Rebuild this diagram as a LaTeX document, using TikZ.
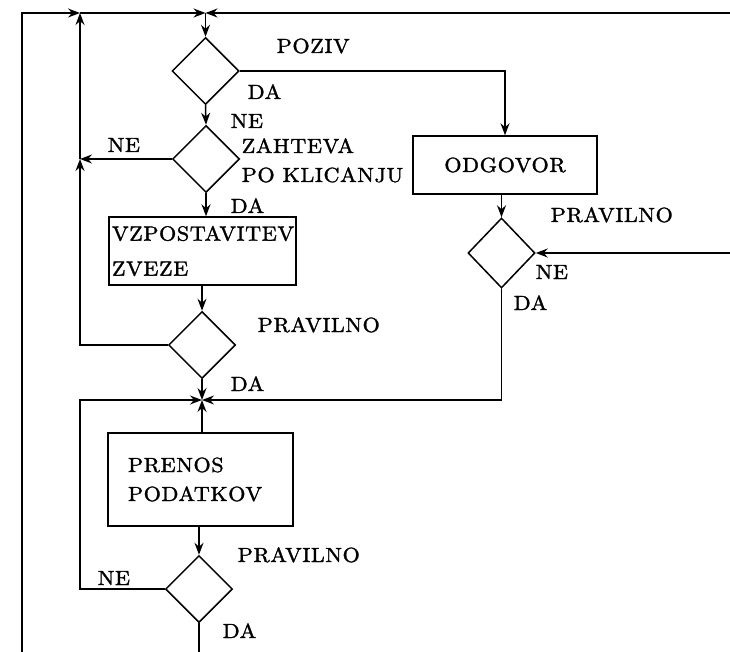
\documentclass[tikz,border=0pt]{standalone}
\usepackage{fontspec}
\usetikzlibrary{shapes.geometric,arrows.meta}
\newfontfamily\lmspaced{lmroman10-regular.otf}[FakeStretch=1.08,LetterSpace=3,FakeBold=1.5]
\newcommand\lblfont{\lmspaced\fontsize{20.5}{24}\selectfont}
\begin{document}
\begin{tikzpicture}[x=1pt,y=-1pt,line width=1.5pt,
  dec/.style={draw,diamond,inner sep=0pt,minimum width=67pt,minimum height=67pt},
  box/.style={draw,rectangle,inner sep=0pt,font=\lblfont},
  lbl/.style={font=\lblfont,anchor=base west,inner sep=0pt},
  arr/.style={-{Stealth[length=12pt,width=9pt,inset=4pt]}}]
\useasboundingbox (0,0) rectangle (730,652);
% decisions
\node[dec] (d1) at (205.5,71) {};
\node[dec] (d2) at (206,159) {};
\node[dec] (d3) at (202,345) {};
\node[dec,minimum height=70pt] (d4) at (501.5,253) {};
\node[dec] (d5) at (199,589) {};
% boxes
\node[box,minimum width=187pt,minimum height=68pt,inner xsep=3pt,text width=181pt,align=left] (b1) at (202.5,251) {VZPOSTAVITEV\\[11pt]ZVEZE};
\node[box,minimum width=184pt,minimum height=58pt] (b2) at (505,165) {ODGOVOR};
\node[box,minimum width=185pt,minimum height=93pt,inner xsep=20pt,text width=145pt,align=left] (b3) at (200.5,479.5) {PRENOS\\[5pt]PODATKOV};
% labels
\node[lbl] (t1) at (276,53) {POZIV};
\node[lbl] (t2) at (247,99) {DA};
\node[lbl] (t3) at (230,128) {NE};
\node[lbl] (t4) at (241,153) {ZAHTEVA};
\node[lbl] (t5) at (241,182) {PO KLICANJU};
\node[lbl] (t6) at (107,152) {NE};
\node[lbl] (t7) at (230,213) {DA};
\node[lbl] (t8) at (257,332) {PRAVILNO};
\node[lbl] (t9) at (230,391) {DA};
\node[lbl] (t10) at (550,222) {PRAVILNO};
\node[lbl] (t11) at (535,279) {NE};
\node[lbl] (t12) at (513,310) {DA};
\node[lbl] (t13) at (237,562) {PRAVILNO};
\node[lbl] (t14) at (97,585) {NE};
\node[lbl] (t15) at (222,638) {DA};
% coordinates
\coordinate (j1) at (205.5,13);
\coordinate (jL) at (80,13);
\coordinate (cTL) at (22,13);
\coordinate (cBL) at (22,652);
\coordinate (cTR) at (730,13);
\coordinate (cR) at (730,253);
\coordinate (jM) at (80,159);
\coordinate (j2) at (202,400);
\coordinate (cL2) at (80,400);
\coordinate (cB) at (199,652);
% connectors
\draw[arr] (cBL) -- (cTL) -- (jL);
\draw[arr] (d3.west) -| (jM);
\draw[arr] (jM) -- (jL);
\draw[arr] (d2.west) -- (jM);
\draw[arr] (jL) -- (j1);
\draw[arr] (cTR) -- (j1);
\draw[arr] (j1) -- (d1.north);
\draw[arr] (d1.east) -| (b2.north);
\draw[arr] (d1.south) -- (d2.north);
\draw[arr] (d2.south) -- (d2.south |- b1.north);
\draw[arr] (d3.north |- b1.south) -- (d3.north);
\draw[arr] (d3.south) -- (j2);
\draw[arr] (b3.north -| j2) -- (j2);
\draw[arr] (d5.west) -| (cL2) -- (j2);
\draw[arr] (d4.south) |- (j2);
\draw[arr] (d4.north |- b2.south) -- (d4.north);
\draw[arr] (cR) -- (d4.east);
\draw[arr] (d5.north |- b3.south) -- (d5.north);
\draw (d5.south) -- (cB);
\end{tikzpicture}
\end{document}
